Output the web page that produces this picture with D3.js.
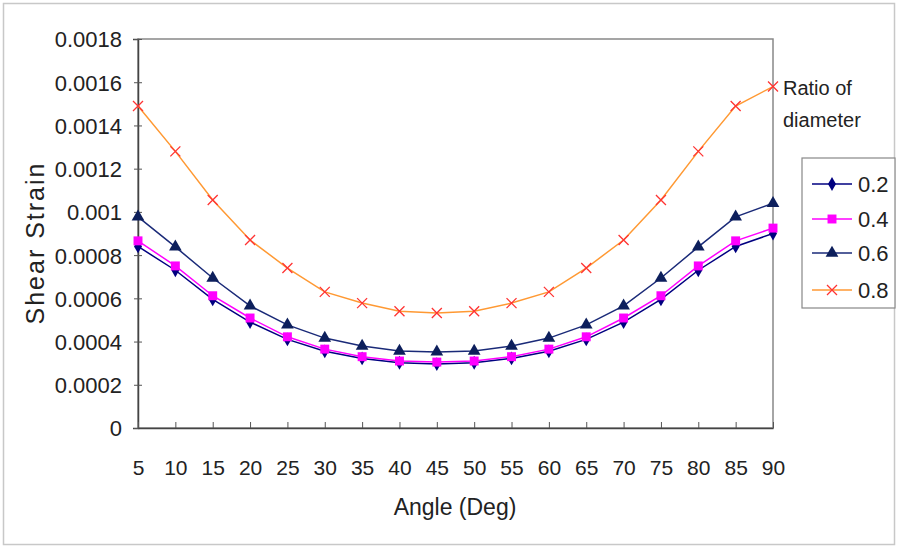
<!DOCTYPE html>
<html><head><meta charset="utf-8">
<script src="https://cdn.jsdelivr.net/npm/d3@7"></script>
<style>
body{margin:0;background:#fff;}
text{font-family:"Liberation Sans",Arial,sans-serif;fill:#222;}
</style></head><body>
<svg id="c" width="898" height="546"></svg>
<script>
const angles = [5,10,15,20,25,30,35,40,45,50,55,60,65,70,75,80,85,90];
const s02 = [0.00084,0.00073,0.000595,0.00049,0.00041,0.000355,0.000322,0.000302,0.000296,0.000302,0.000322,0.000355,0.00041,0.00049,0.000595,0.00073,0.00084,0.0009];
const s04 = [0.000866,0.00075,0.000612,0.000509,0.000422,0.000365,0.00033,0.00031,0.000305,0.00031,0.00033,0.000365,0.000422,0.000509,0.000612,0.00075,0.000866,0.000925];
const s06 = [0.000977,0.000838,0.000694,0.000565,0.000477,0.000416,0.000379,0.000356,0.000352,0.000356,0.000379,0.000416,0.000477,0.000565,0.000694,0.000838,0.000977,0.00104];
const s08 = [0.00149,0.00128,0.001055,0.00087,0.00074,0.00063,0.000578,0.00054,0.000532,0.00054,0.000578,0.00063,0.00074,0.00087,0.001055,0.00128,0.00149,0.00158];
const seriesNames = ["0.2","0.4","0.6","0.8"];
const yTicks = [0,0.0002,0.0004,0.0006,0.0008,0.001,0.0012,0.0014,0.0016,0.0018];
const yTickLabels = ["0","0.0002","0.0004","0.0006","0.0008","0.001","0.0012","0.0014","0.0016","0.0018"];

const svg = d3.select("#c");
const L=138, R=773, T=39, B=428;
const x = d3.scalePoint().domain(angles).range([L,R]);
const y = d3.scaleLinear().domain([0,0.0018]).range([B,T]);

svg.append("rect").attr("x",3.5).attr("y",3.5).attr("width",891).attr("height",541)
  .attr("fill","none").attr("stroke","#c8c8c8").attr("stroke-width",1.5);

// plot frame
svg.append("rect").attr("x",L).attr("y",T).attr("width",R-L).attr("height",B-T)
  .attr("fill","none").attr("stroke","#888").attr("stroke-width",1.5);

// y axis
const ya = svg.append("g").attr("transform",`translate(${L},0)`)
  .call(d3.axisLeft(y).tickValues(yTicks).tickSize(5).tickFormat((d,i)=>yTickLabels[i]));
ya.select(".domain").attr("stroke","#444").attr("stroke-width",1.5);
ya.selectAll(".tick line").attr("stroke","#555").attr("x2",4).attr("x1",-4);
ya.selectAll(".tick text").attr("x",-16).attr("dy","0.36em")
  .style("font-size","22px").attr("fill","#222");

// x axis
const xa = svg.append("g").attr("transform",`translate(0,${B})`)
  .call(d3.axisBottom(x).tickSize(0));
xa.select(".domain").attr("stroke","#444").attr("stroke-width",1.5);
xa.selectAll(".tick").append("line").attr("y1",0).attr("y2",-6).attr("stroke","#555");
xa.selectAll(".tick text").attr("y",47).attr("dy","0")
  .style("font-size","21px").attr("fill","#222");

// axis titles
svg.append("text").attr("transform","translate(44,243) rotate(-90)")
  .attr("text-anchor","middle").style("font-size","25px").style("letter-spacing","2px").text("Shear Strain");
svg.append("text").attr("x",455).attr("y",515).attr("text-anchor","middle")
  .style("font-size","23px").text("Angle (Deg)");

svg.append("text").attr("x",783).attr("y",95).style("font-size","20px").text("Ratio of");
svg.append("text").attr("x",783).attr("y",127).style("font-size","20px").text("diameter");

const series = [
  {name:seriesNames[0], vals:s02, line:"#000080", fill:"#000080", sym:d3.symbolDiamond, size:55},
  {name:seriesNames[1], vals:s04, line:"#ff00ff", fill:"#ff00ff", sym:d3.symbolSquare, size:80},
  {name:seriesNames[2], vals:s06, line:"#1a2a78", fill:"#0d1f5c", sym:d3.symbolTriangle, size:70},
  {name:seriesNames[3], vals:s08, line:"#ff9933", fill:"none", sym:null, size:0}
];

function drawMarker(g, s, cx, cy){
  if(s.sym){
    g.append("path").attr("d",d3.symbol().type(s.sym).size(s.size)())
      .attr("transform",`translate(${cx},${cy})`).attr("fill",s.fill);
  } else {
    const r=5;
    g.append("path").attr("d",`M${cx-r},${cy-r}L${cx+r},${cy+r}M${cx-r},${cy+r}L${cx+r},${cy-r}`)
      .attr("stroke","#ff3333").attr("stroke-width",1.3).attr("fill","none");
  }
}

series.forEach(s=>{
  const line = d3.line().x((d,i)=>x(angles[i])).y(d=>y(d));
  svg.append("path").datum(s.vals).attr("d",line).attr("fill","none")
    .attr("stroke",s.line).attr("stroke-width",1.5);
  const g = svg.append("g");
  s.vals.forEach((v,i)=>drawMarker(g,s,x(angles[i]),y(v)));
});

// legend
svg.append("rect").attr("x",802).attr("y",158).attr("width",93).attr("height",150)
  .attr("fill","#fff").attr("stroke","#888").attr("stroke-width",1.2);
const ly=[184,219,253,290];
series.forEach((s,i)=>{
  svg.append("line").attr("x1",812).attr("x2",852).attr("y1",ly[i]).attr("y2",ly[i])
    .attr("stroke",s.line).attr("stroke-width",1.5);
  drawMarker(svg,s,832,ly[i]);
  svg.append("text").attr("x",858).attr("y",ly[i]).attr("dy","0.36em")
    .style("font-size","22px").text(s.name);
});
</script></body></html>
